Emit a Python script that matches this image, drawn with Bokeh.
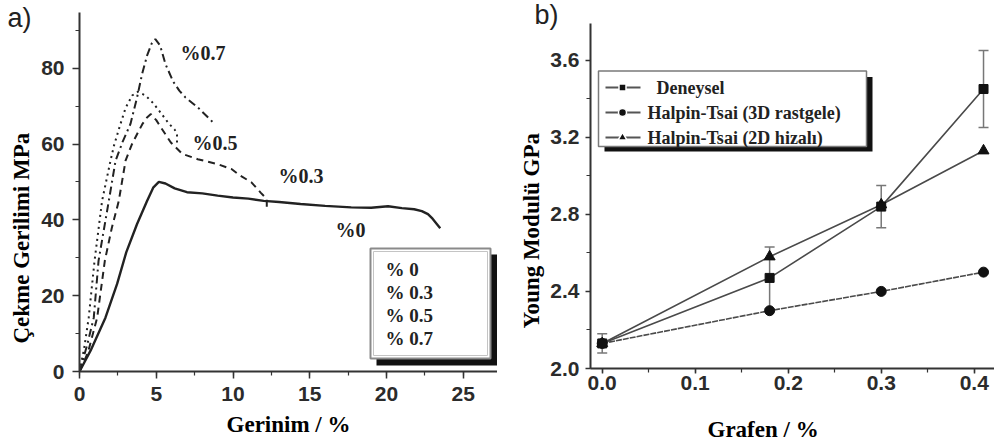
from bokeh.plotting import figure
from bokeh.layouts import row
from bokeh.models import (Range1d, SingleIntervalTicker, PrintfTickFormatter, Title,
                          Whisker, TeeHead, ColumnDataSource)
from bokeh.core.properties import value
from bokeh.embed import file_html
from bokeh.resources import INLINE

# ---------------- Panel a data (stress-strain curves) ----------------
strain_0 = [0, 0.72, 1.69, 2.45, 3.05, 3.75, 4.4, 4.8, 5.17, 5.6, 6.2, 7.0, 8.0, 9.0, 10.0, 11.0,
            12.0, 13.0, 14.4, 16.0, 17.7, 19.0, 20.1, 21.0, 21.8, 22.3, 22.7, 23.0, 23.3, 23.5]
stress_0 = [0, 5.5, 14.2, 23.1, 31.5, 38.9, 45.0, 48.5, 50.0, 49.6, 48.3, 47.3, 47.0, 46.4, 45.9, 45.6,
            45.0, 44.7, 44.2, 43.7, 43.3, 43.2, 43.6, 43.1, 42.8, 42.3, 41.5, 40.3, 38.8, 37.8]

strain_03 = [0, 0.55, 1.15, 1.65, 2.1, 2.56, 3.0, 3.4, 3.8, 4.1, 4.4, 4.65, 5.0, 5.3, 5.95, 6.7,
             7.7, 9.0, 9.9, 10.5, 11.2, 11.8, 12.2, 12.2]
stress_03 = [0, 5.0, 14.2, 29.2, 37.8, 45.0, 55.6, 59.8, 63.0, 65.3, 67.0, 67.9, 66.3, 64.4, 60.4, 57.4,
             56.0, 54.7, 53.4, 51.6, 49.9, 47.2, 45.5, 43.0]

strain_05 = [0, 0.3, 0.6, 0.98, 1.47, 2.02, 2.24, 2.67, 3.0, 3.43, 3.8, 4.3, 4.8, 5.3, 5.8, 6.2, 6.35, 6.35]
stress_05 = [0, 6.0, 14.2, 29.2, 45.0, 55.6, 59.5, 65.3, 69.5, 72.8, 73.8, 72.8, 70.8, 68.2, 65.5, 63.8, 62.5, 60.0]

strain_07 = [0, 0.5, 0.93, 1.24, 1.91, 2.35, 2.8, 3.32, 3.75, 4.08, 4.4, 4.7, 4.94, 5.25, 5.6, 6.1,
             6.5, 6.9, 7.7, 8.8]
stress_07 = [0, 7.0, 14.2, 29.2, 45.0, 55.6, 60.5, 65.3, 72.3, 78.5, 83.3, 86.5, 87.7, 86.0, 81.1, 76.5,
             74.1, 72.3, 69.7, 65.3]

curve_tags = ["%0.7", "%0.5", "%0.3", "%0"]
legend_a = ["% 0", "% 0.3", "% 0.5", "% 0.7"]

# ---------------- Panel b data (Young modulus) ----------------
grafen = [0.0, 0.18, 0.30, 0.41]
deneysel = [2.13, 2.47, 2.84, 3.45]
deneysel_err = [0.05, 0.16, 0.11, 0.20]
ht_3d = [2.13, 2.30, 2.40, 2.50]
ht_2d = [2.13, 2.58, 2.85, 3.13]
legend_b = ["Deneysel", "Halpin-Tsai (3D rastgele)", "Halpin-Tsai (2D hizalı)"]

SERIF = "Liberation Serif"
TICKFONT = "Liberation Sans Narrow, Liberation Sans"
INK = "#222222"

# ---------------- geometry helpers (pixel layout -> data) ----------------
WA, H = 497, 445
A_LEFT, A_TOP, A_BOTTOM = 79, 12, 74
A_FW, A_FH = WA - A_LEFT, H - A_TOP - A_BOTTOM
XA_END, YA_END = 27.23, 94.7


def ax_(px):
    return (px - A_LEFT) / A_FW * XA_END


def ay_(py):
    return (H - A_BOTTOM - py) / A_FH * YA_END


WB = 497
B_LEFT, B_TOP, B_BOTTOM = 93, 23, 77
B_FW, B_FH = WB - B_LEFT, H - B_TOP - B_BOTTOM
XB0, XB1 = -0.0126, 0.4218
YB0, YB1 = 2.0, 3.79


def bx_(px_global):
    return XB0 + (px_global - WA - B_LEFT) / B_FW * (XB1 - XB0)


def by_(py):
    return YB0 + (H - B_BOTTOM - py) / B_FH * (YB1 - YB0)


def style_axes(p):
    for ax in (p.xaxis[0], p.yaxis[0]):
        ax.axis_line_color = "#333333"
        ax.axis_line_width = 2
        ax.major_tick_in = 0
        ax.major_tick_out = 7
        ax.minor_tick_in = 0
        ax.minor_tick_out = 4
        ax.major_tick_line_color = "#333333"
        ax.major_tick_line_width = 1.5
        ax.minor_tick_line_color = "#333333"
        ax.minor_tick_line_width = 1.2
        ax.major_label_text_font = TICKFONT
        ax.major_label_text_font_size = "21px"
        ax.major_label_text_font_style = "bold"
        ax.major_label_text_color = "#2b2b2b"
        ax.axis_label_text_font = SERIF
        ax.axis_label_text_font_style = "bold"
        ax.axis_label_text_font_size = "23px"
        ax.axis_label_text_color = "#000000"
    p.xgrid.visible = False
    p.ygrid.visible = False
    p.outline_line_color = None
    try:
        p.frame_align = False
    except Exception:
        pass


def panel_tag(p, text, offset, standoff, valign):
    p.title.text = text
    p.title.align = "left"
    p.title.offset = offset
    p.title.vertical_align = valign
    p.title.standoff = standoff
    p.title.text_font = "Liberation Sans"
    p.title.text_font_size = "27px"
    p.title.text_font_style = "normal"
    p.title.text_color = "#222222"


def side_label(text, offset, standoff, valign="top"):
    return Title(text=text, align="left", offset=offset, vertical_align=valign, standoff=standoff,
                 text_font=SERIF, text_font_style="bold", text_font_size="23px", text_color="#000000")


# ================= Panel a =================
pa = figure(width=WA, height=H, x_range=Range1d(0, XA_END), y_range=Range1d(0, YA_END),
            output_backend="svg", toolbar_location=None,
            min_border_left=A_LEFT, min_border_right=0, min_border_top=A_TOP, min_border_bottom=A_BOTTOM)
style_axes(pa)
pa.xaxis.ticker = SingleIntervalTicker(interval=5, num_minor_ticks=2)
pa.yaxis.ticker = SingleIntervalTicker(interval=20, num_minor_ticks=2)
pa.xaxis.axis_label = "Gerinim / %"
pa.xaxis.major_label_standoff = 8
pa.yaxis.major_label_standoff = 8
pa.xaxis.axis_label_standoff = 8
pa.add_layout(side_label("Çekme Gerilimi MPa", offset=28, standoff=6), "left")
panel_tag(pa, "a)", offset=-72, standoff=-40, valign="bottom")

pa.line(strain_0, stress_0, line_color=INK, line_width=2.4)
pa.line(strain_03, stress_03, line_color=INK, line_width=2, line_dash="7 5")
pa.line(strain_05, stress_05, line_color=INK, line_width=2, line_dash="2 4")
pa.line(strain_07, stress_07, line_color=INK, line_width=2, line_dash="8 4 2 4")

# curve tags
tag_px = [180, 192, 278, 335]
tag_py = [52, 142, 175, 229]
pa.text(x=[ax_(v) for v in tag_px], y=[ay_(v) for v in tag_py], text=curve_tags,
        text_font=value(SERIF), text_font_style="bold", text_font_size="20px",
        text_color=INK, text_baseline="middle", text_align="left")

# legend box (panel a)
pa.quad(left=[ax_(376)], right=[ax_(497)], top=[ay_(254)], bottom=[ay_(365)],
        fill_color="#111111", line_color=None)
pa.quad(left=[ax_(370)], right=[ax_(490)], top=[ay_(248)], bottom=[ay_(358)],
        fill_color="white", line_color="#8a8a8a", line_width=2)
pa.quad(left=[ax_(373)], right=[ax_(487)], top=[ay_(251)], bottom=[ay_(355)],
        fill_color=None, line_color="#c4c4c4", line_width=1)
leg_a_py = [268.5, 291.5, 314.5, 338]
pa.text(x=[ax_(385)] * 4, y=[ay_(v) for v in leg_a_py], text=legend_a,
        text_font=value(SERIF), text_font_style="bold", text_font_size="19px",
        text_color=INK, text_baseline="middle", text_align="left")

# ================= Panel b =================
pb = figure(width=WB, height=H, x_range=Range1d(XB0, XB1), y_range=Range1d(YB0, YB1),
            output_backend="svg", toolbar_location=None,
            min_border_left=B_LEFT, min_border_right=0, min_border_top=B_TOP, min_border_bottom=B_BOTTOM)
style_axes(pb)
pb.xaxis.ticker = SingleIntervalTicker(interval=0.1, num_minor_ticks=2)
pb.yaxis.ticker = SingleIntervalTicker(interval=0.4, num_minor_ticks=2)
pb.xaxis.formatter = PrintfTickFormatter(format="%.1f")
pb.yaxis.formatter = PrintfTickFormatter(format="%.1f")
pb.xaxis.major_label_standoff = 2
pb.yaxis.major_label_standoff = 6
pb.xaxis.major_tick_out = 5
pb.yaxis.major_tick_out = 5
pb.add_layout(side_label("Young Modulü GPa", offset=40, standoff=4), "left")
pb.add_layout(Title(text=" ", text_font_size="1px", standoff=17), "below")
pb.add_layout(side_label("Grafen  / %", offset=117, standoff=5, valign="bottom"), "below")
panel_tag(pb, "b)", offset=-56, standoff=-16.6, valign="top")

LINE_B = "#4a4a4a"
err_src = ColumnDataSource(dict(x=grafen,
                                upper=[d + e for d, e in zip(deneysel, deneysel_err)],
                                lower=[d - e for d, e in zip(deneysel, deneysel_err)]))
pb.add_layout(Whisker(source=err_src, base="x", upper="upper", lower="lower",
                      line_color="#777777", line_width=1.5,
                      upper_head=TeeHead(size=10, line_color="#777777", line_width=1.5),
                      lower_head=TeeHead(size=10, line_color="#777777", line_width=1.5)))

pb.line(grafen, ht_3d, line_color=LINE_B, line_width=1.6, line_dash="6 1")
pb.line(grafen, ht_2d, line_color=LINE_B, line_width=1.6)
pb.line(grafen, deneysel, line_color=LINE_B, line_width=1.6)
pb.scatter(grafen, ht_3d, marker="circle", size=10, fill_color="#111111", line_color="#111111")
pb.scatter(grafen, ht_2d, marker="triangle", size=11, fill_color="#111111", line_color="#111111")
pb.scatter(grafen, deneysel, marker="square", size=9, fill_color="#111111", line_color="#111111")

# legend box (panel b)
pb.quad(left=[bx_(604)], right=[bx_(872)], top=[by_(76.5)], bottom=[by_(151)],
        fill_color="#111111", line_color=None)
pb.quad(left=[bx_(598)], right=[bx_(866)], top=[by_(70.5)], bottom=[by_(146)],
        fill_color="white", line_color="#7a7a7a", line_width=1.5)
leg_b_py = [87, 112, 137]
leg_b_tx = [656, 647, 647]
pb.segment(x0=[bx_(605)] * 3, x1=[bx_(640)] * 3, y0=[by_(v) for v in leg_b_py],
           y1=[by_(v) for v in leg_b_py], line_color="#555555", line_width=2)
for mk, py, sz in zip(["square", "circle", "triangle"], leg_b_py, [7, 8, 9]):
    pb.scatter([bx_(622)], [by_(py)], marker=mk, size=sz, fill_color="#111111", line_color="white",
               line_width=1.5)
pb.text(x=[bx_(v) for v in leg_b_tx], y=[by_(v) for v in leg_b_py], text=legend_b,
        text_font=value(SERIF), text_font_style="bold", text_font_size="18px",
        text_color=INK, text_baseline="middle", text_align="left")

layout = row(pa, pb)
open("out.html", "w").write(file_html(layout, INLINE))
